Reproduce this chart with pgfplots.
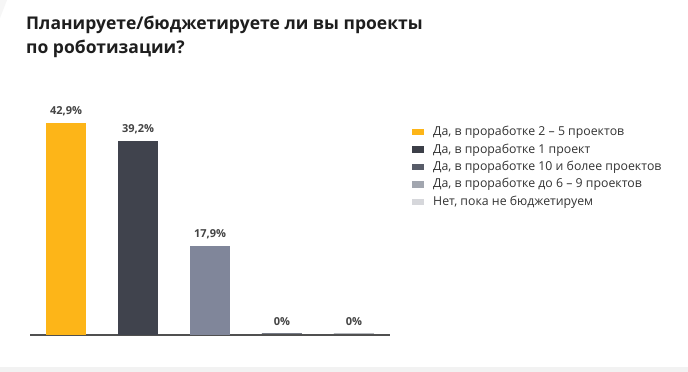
\documentclass[border=0pt]{standalone}
\usepackage{fontspec}
\setmainfont{Open Sans}
\usepackage{pgfplots}
\pgfplotsset{compat=1.18}
\definecolor{b1}{HTML}{FDB518}
\definecolor{b2}{HTML}{40434D}
\definecolor{b3}{HTML}{80869A}
\definecolor{b4}{HTML}{777C87}
\definecolor{b5}{HTML}{B5B8BD}
\definecolor{l1}{HTML}{FDB518}
\definecolor{l2}{HTML}{3C3F48}
\definecolor{l3}{HTML}{585C69}
\definecolor{l4}{HTML}{A2A6AF}
\definecolor{l5}{HTML}{D6D7DB}
\definecolor{titlec}{HTML}{1E1E1E}
\definecolor{legc}{HTML}{333333}
\definecolor{lblc}{HTML}{444444}
\definecolor{axc}{HTML}{505050}
\definecolor{strip}{HTML}{F2F2F2}
\begin{document}
\begin{tikzpicture}[x=1pt,y=1pt]
\fill[white] (0,0) rectangle (688,372);
\fill[strip] (0,0) rectangle (688,5);
\fill[strip!70] (0,372) -- (7,372) -- (0,354) -- cycle;
\node[anchor=base west, inner sep=0pt, text=titlec, font=\bfseries\fontsize{17.5}{21}\selectfont] at (26,342.7) {Планируете/бюджетируете ли вы проекты};
\node[anchor=base west, inner sep=0pt, text=titlec, font=\bfseries\fontsize{17.5}{21}\selectfont] at (26,318.7) {по роботизации?};
\begin{axis}[
  at={(30pt,37pt)}, anchor=south west,
  scale only axis, width=360pt, height=247.5pt,
  xmin=-0.5, xmax=4.5, ymin=0, ymax=50,
  enlargelimits=false, clip=false,
  axis x line*=bottom, axis y line=none,
  xtick=\empty, ytick=\empty,
  axis line style={-, draw=axc, line width=1.3pt},
  ybar, bar width=40pt, bar shift=0pt,
  nodes near coords, point meta=explicit symbolic,
  every node near coord/.append style={anchor=base, yshift=8.4pt, inner sep=0pt, text=lblc, font=\bfseries\fontsize{11}{13}\selectfont},
  legend image code/.code={\fill[#1] (0pt,-3pt) rectangle (12pt,3.5pt);},
  legend cell align=left,
  legend style={at={(1.0611,0.8444)}, anchor=north west, draw=none, fill=none,
    inner sep=0pt, row sep=4.9pt, column sep=9pt, text=legc,
    font=\fontsize{12.3}{14}\selectfont,
    nodes={inner sep=0pt, text height=9.5pt, text depth=3pt}},
]
\addplot[fill=b1, draw=none, forget plot] coordinates {(0,42.9) [42,9\%]};
\addplot[fill=b2, draw=none, forget plot] coordinates {(1,39.2) [39,2\%]};
\addplot[fill=b3, draw=none, forget plot] coordinates {(2,17.9) [17,9\%]};
\addplot[fill=b4, draw=b4, line width=1.5pt, yshift=1.5pt, forget plot] coordinates {(3,0) [0\%]};
\addplot[fill=b5, draw=b5, line width=1.5pt, yshift=1.5pt, forget plot] coordinates {(4,0) [0\%]};
\addlegendimage{fill=l1, draw=none}
\addlegendentry{Да, в проработке 2 – 5 проектов}
\addlegendimage{fill=l2, draw=none}
\addlegendentry{Да, в проработке 1 проект}
\addlegendimage{fill=l3, draw=none}
\addlegendentry{Да, в проработке 10 и более проектов}
\addlegendimage{fill=l4, draw=none}
\addlegendentry{Да, в проработке до 6 – 9 проектов}
\addlegendimage{fill=l5, draw=none}
\addlegendentry{Нет, пока не бюджетируем}
\end{axis}
\end{tikzpicture}
\end{document}
